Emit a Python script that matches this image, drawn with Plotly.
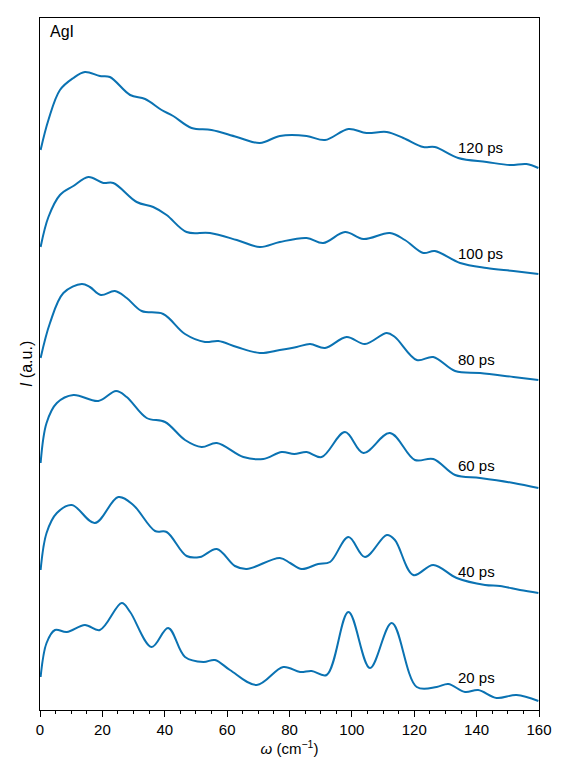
import plotly.graph_objects as go

# spectra, one x/intensity pair per delay
labels = ["20 ps", "40 ps", "60 ps", "80 ps", "100 ps", "120 ps"]

x_20 = [0.2, 2.1, 4.8, 8.6, 14.4, 19.2, 26.2, 28.9, 35.8, 41.1, 46.5, 52.4, 56.1, 60.9, 69.5, 78.0,
        83.4, 87.1, 91.9, 98.9, 105.8, 112.8, 120.8, 127.2, 130.9,
        136.3, 140.5, 146.4, 152.8, 159.8]
i_20 = [33, 67, 80, 78, 85, 80, 107, 98, 63, 82, 53, 48, 50, 40, 25, 43,
        38, 39, 35, 98, 42, 87, 23, 23, 26,
        18, 20, 12, 15, 9]

x_40 = [0.2, 2.1, 5.4, 10.2, 17.6, 25.1, 29.9, 36.9, 40.6, 47.0, 51.3, 56.7, 62.5, 66.3, 76.9, 80.2,
        83.9, 89.2, 93.0, 98.9, 104.2, 111.2, 113.8, 119.7, 126.1, 133.6, 142.7, 147.5, 153.9, 159.8]
i_40 = [34, 71, 91, 99, 81, 107, 99, 73, 72, 48, 47, 55, 38, 35, 46, 41,
        35, 40, 42, 67, 47, 69, 64, 29, 39, 26, 19, 18, 14, 11]

x_60 = [0.2, 2.1, 5.4, 10.7, 18.7, 24.4, 27.8, 34.2, 40.1, 46.5, 51.8, 56.7, 65.2, 71.6, 77.5, 81.5, 85.5,
        90.3, 97.8, 103.7, 112.2, 120.2, 126.1, 133.1, 141.1, 151.8, 159.8]
i_60 = [35, 75, 95, 103, 97, 107, 101, 80, 76, 58, 51, 55, 41, 39, 46, 44, 46,
        41, 66, 45, 65, 38, 39, 23, 20, 15, 10]

x_80 = [0.2, 3.2, 7.5, 13.4, 16.0, 19.5, 24.0, 27.8, 32.6, 39.5, 46.5, 52.9, 57.2, 63.1, 70.5, 76.9,
        82.3, 86.6, 91.4, 98.3, 104.2, 111.2, 113.8, 120.8, 126.1, 133.1, 141.1, 151.8, 159.8]
i_80 = [34, 69, 99, 108, 105, 97, 101, 94, 81, 78, 58, 50, 51, 45, 39, 42,
        45, 48, 44, 55, 48, 59, 55, 32, 35, 21, 19, 15, 12]

x_100 = [0.2, 2.7, 6.4, 10.7, 15.5, 20.3, 23.5, 31.0, 36.3, 40.6, 47.0, 54.5, 63.1, 70.5, 76.9, 85.5,
         90.8, 97.8, 103.7, 112.2, 117.0, 122.9, 126.6, 134.7, 143.2, 151.8, 159.8]
i_100 = [39, 69, 91, 100, 109, 103, 103, 84, 79, 71, 54, 53, 46, 39, 44, 48,
         43, 54, 47, 53, 46, 33, 35, 23, 18, 15, 12]

x_120 = [0.2, 2.7, 6.4, 10.7, 14.4, 19.2, 22.4, 28.9, 33.7, 39.0, 42.7, 48.6, 55.0, 63.1, 70.5, 76.9,
         85.5, 91.4, 98.9, 104.7, 111.2, 116.5, 122.9, 126.6, 134.1, 143.2, 150.7, 156.0, 159.8]
i_120 = [30, 60, 90, 102, 108, 104, 103, 85, 81, 70, 64, 52, 50, 43, 37, 44,
         44, 40, 51, 47, 48, 42, 33, 33, 22, 18, 15, 16, 12]

xs = [x_20, x_40, x_60, x_80, x_100, x_120]
ints = [i_20, i_40, i_60, i_80, i_100, i_120]

offset = 106
label_x = 133.4
label_i = 33
color = "#0a72b2"
font = "Liberation Sans, Arial, sans-serif"

fig = go.Figure()
annotations = []
for k, (x, y) in enumerate(zip(xs, ints)):
    fig.add_trace(go.Scatter(
        x=x, y=[v + k * offset for v in y],
        mode="lines",
        line=dict(color=color, width=2, shape="spline", smoothing=1.0),
        showlegend=False,
        hoverinfo="skip",
    ))
    annotations.append(dict(
        x=label_x, y=label_i + k * offset, text=labels[k],
        showarrow=False, xanchor="left", yanchor="middle",
        font=dict(size=15, color="black", family=font),
    ))

annotations.append(dict(
    x=0.016, y=0.996, xref="paper", yref="paper", text="AgI",
    showarrow=False, xanchor="left", yanchor="top",
    font=dict(size=16, color="black", family=font),
))

# y title placed by hand so it sits where the reference has it
annotations.append(dict(
    x=-0.028, y=0.5, xref="paper", yref="paper", text="<i>I</i> (a.u.)",
    showarrow=False, xanchor="center", yanchor="middle", textangle=-90,
    font=dict(size=16, color="black", family=font),
))

# the page body adds an 8px margin, so the figure is shrunk to fit the window
fig.update_layout(
    width=563, height=772,
    margin=dict(l=32, r=32, t=10, b=70),
    plot_bgcolor="white", paper_bgcolor="white",
    font=dict(family=font, size=15, color="black"),
    annotations=annotations,
    xaxis=dict(
        range=[0, 160], dtick=20, tick0=0,
        showgrid=False, zeroline=False, automargin=False,
        showline=True, linecolor="black", linewidth=1, mirror=True,
        ticks="outside", ticklen=6, tickcolor="black",
        tickfont=dict(size=15),
        minor=dict(dtick=5, ticks="outside", ticklen=3, tickcolor="black"),
        title=dict(text="<i>ω</i> (cm<sup>−1</sup>)", standoff=6, font=dict(size=15)),
    ),
    yaxis=dict(
        range=[0, 692],
        showgrid=False, zeroline=False, showticklabels=False, ticks="",
        automargin=False,
        showline=True, linecolor="black", linewidth=1, mirror=True,
    ),
)

fig.write_html("out.html")
